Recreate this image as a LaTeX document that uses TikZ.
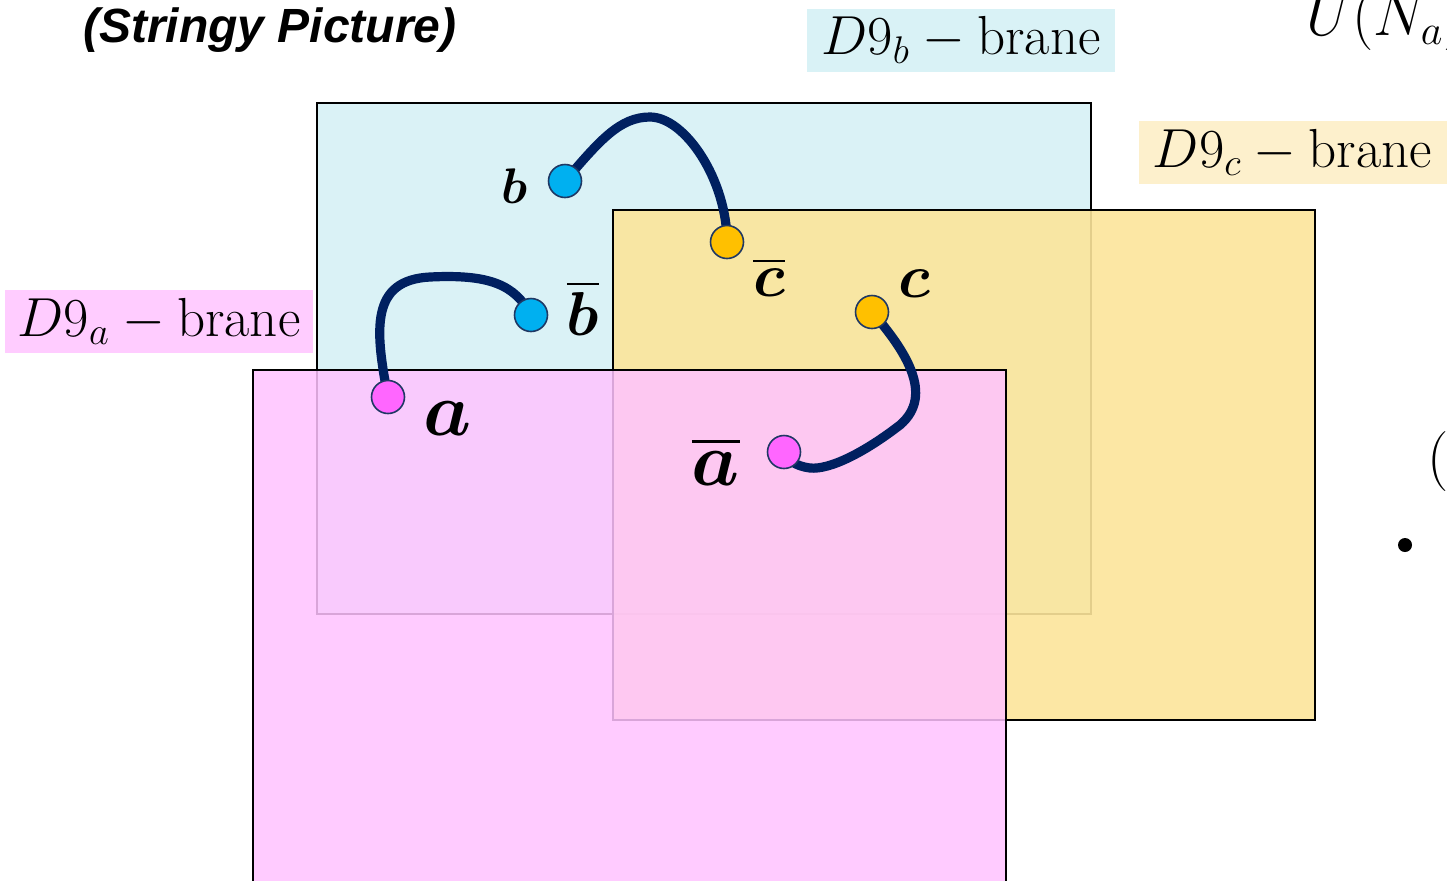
\RequirePackage{fix-cm}
\documentclass[tikz,border=0pt]{standalone}
\usepackage{amsmath, amssymb}
\usepackage{bm}
\usepackage{fontspec}
\newfontfamily\titlefont{Liberation Sans}
\usetikzlibrary{calc}
\pgfdeclarelayer{bg}
\pgfdeclarelayer{mid}
\pgfsetlayers{bg,mid,main}
\definecolor{braneA}{HTML}{FFC3FF}
\definecolor{braneB}{HTML}{DAF2F6}
\definecolor{braneC}{HTML}{FCE59B}
\definecolor{tagA}{HTML}{FFCCFF}
\definecolor{tagB}{HTML}{D9F2F6}
\definecolor{tagC}{HTML}{FDF0CC}
\definecolor{endA}{HTML}{FF66FF}
\definecolor{endB}{HTML}{00B0F0}
\definecolor{endC}{HTML}{FFC000}
\definecolor{strcol}{HTML}{002060}
\definecolor{rimcol}{HTML}{1F3864}
\tikzset{
  brane/.style={draw=black, line width=0.8pt},
  branetag/.style={inner sep=0pt, minimum width=154pt, minimum height=31.5pt, font=\fontsize{27.5}{30}\selectfont},
  stringend/.style={circle, draw=rimcol, line width=0.8pt, minimum size=16.5pt, inner sep=0pt},
  stringline/.style={draw=strcol, line width=4.6pt, line cap=round},
  endlbl/.style={inner sep=0pt, font=\fontsize{31}{33}\selectfont},
}

\begin{document}
\begin{tikzpicture}[x=0.5pt, y=-0.5pt]
  \useasboundingbox (0,0) rectangle (1447,880);
  \begin{pgfonlayer}{bg}
    \fill[white] (0,0) rectangle (1447,880);
    \filldraw[brane, fill=braneB] (317,103) rectangle (1091,614);
    \filldraw[brane, fill=braneC, fill opacity=0.9] (613,210) rectangle (1315,720);
    \filldraw[brane, fill=braneA, fill opacity=0.85] (253,370) rectangle (1006,900);
  \end{pgfonlayer}

  \node[anchor=center, font=\titlefont\bfseries\itshape\fontsize{24}{28}\selectfont] (title) at (270,30) {(Stringy Picture)};
  \node[branetag, fill=tagA] (tagA) at (159,321.5) {$D9_a - \mathrm{brane}$};
  \node[branetag, fill=tagB] (tagB) at (961,40) {$D9_b - \mathrm{brane}$};
  \node[branetag, fill=tagC] (tagC) at (1292.5,152.5) {$D9_c - \mathrm{brane}$};
  \node[anchor=base west, inner sep=0pt, font=\fontsize{30}{33}\selectfont] (gauge) at (1306,35) {$U(N_a)$};
  \node[anchor=base west, inner sep=0pt, font=\fontsize{30}{33}\selectfont] (paren) at (1427,476) {$($};
  \fill (1405,545) circle (7) coordinate (dot);

  % open string end points
  \node[stringend, fill=endB] (b) at (565,181) {};
  \node[stringend, fill=endC] (cbar) at (727,242) {};
  \node[stringend, fill=endB] (bbar) at (531,315) {};
  \node[stringend, fill=endA] (a) at (388,397) {};
  \node[stringend, fill=endC] (c) at (872,312) {};
  \node[stringend, fill=endA] (abar) at (784,452) {};

  \node[endlbl, font=\fontsize{25}{27}\selectfont] (lb) at (515,186) {$\bm{b}$};
  \node[endlbl] (lbbar) at (583,308) {$\bm{\overline{b}}$};
  \node[endlbl] (lcbar) at (769,277) {$\bm{\overline{c}}$};
  \node[endlbl] (lc) at (914,284) {$\bm{c}$};
  \node[endlbl, font=\fontsize{38}{40}\selectfont] (la) at (448,419) {$\bm{a}$};
  \node[endlbl, font=\fontsize{38}{40}\selectfont] (labar) at (716,461) {$\bm{\overline{a}}$};

  \begin{pgfonlayer}{mid}
    \draw[stringline] (b.center) .. controls (600,140) and (620,117) .. (650,117)
      .. controls (685,117) and (727,180) .. (cbar.center);
    \draw[stringline] (a.center) .. controls (375,330) and (370,280) .. (430,277)
      .. controls (490,274) and (515,285) .. (bbar.center);
    \draw[stringline] (c.center) .. controls (905,350) and (935,395) .. (900,425)
      .. controls (865,452) and (830,470) .. (810,468)
      .. controls (795,466) and (788,460) .. (abar.center);
  \end{pgfonlayer}
\end{tikzpicture}
\end{document}
